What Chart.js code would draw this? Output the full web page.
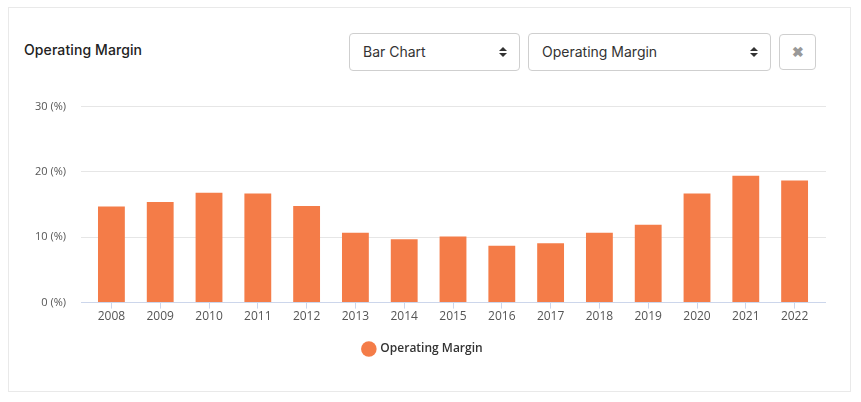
<!DOCTYPE html>
<html>
<head>
<meta charset="utf-8">
<script src="https://cdn.jsdelivr.net/npm/chart.js@4"></script>
<style>
  html, body { margin:0; padding:0; background:#fff; }
  body { width:861px; height:402px; position:relative; overflow:hidden; font-family:"Inter","Open Sans",sans-serif; }
  .card { position:absolute; left:8px; top:7px; width:843px; height:385px; border:1px solid #e9e9e9; box-sizing:border-box; }
  .title { position:absolute; left:24px; top:41px; font-size:14px; font-weight:500; color:#222; letter-spacing:0.1px; }
  .sel { position:absolute; top:33px; height:38px; border:1px solid #cfcfcf; border-radius:4px; box-sizing:border-box; font-size:14px; color:#333; line-height:36px; padding-left:13px; background:#fff; }
  .arr { position:absolute; right:12px; top:13px; width:8px; height:11px; }
  .arr:before, .arr:after { content:""; position:absolute; left:0; border-left:4px solid transparent; border-right:4px solid transparent; }
  .arr:before { top:0; border-bottom:4px solid #333; }
  .arr:after { top:6px; border-top:4px solid #333; }
  .btn { position:absolute; left:779px; top:34px; width:37px; height:36px; border:1px solid #cfcfcf; border-radius:4px; box-sizing:border-box; color:#999; font-size:14px; font-weight:bold; text-align:center; line-height:34px; }
  #wrap { position:absolute; left:20px; top:85px; width:820px; height:284px; }
</style>
</head>
<body>
<div class="card"></div>
<div class="title">Operating Margin</div>
<div class="sel" style="left:349px;width:171px;">Bar Chart<span class="arr"></span></div>
<div class="sel" style="left:528px;width:243px;">Operating Margin<span class="arr"></span></div>
<div class="btn">&#10006;</div>
<div id="wrap"><canvas id="c"></canvas></div>
<script>
const years = ["2008","2009","2010","2011","2012","2013","2014","2015","2016","2017","2018","2019","2020","2021","2022"];
const operatingMargin = [14.7, 15.4, 16.8, 16.7, 14.8, 10.7, 9.7, 10.1, 8.7, 9.1, 10.7, 11.9, 16.7, 19.4, 18.7];
const seriesName = "Operating Margin";
const yTicks = [0, 10, 20, 30];

const gridCol = (ctx) => (ctx.tick && ctx.tick.value === 0) ? '#ccd6eb' : '#e6e6e6';

new Chart(document.getElementById('c'), {
  type: 'bar',
  data: {
    labels: years,
    datasets: [{
      label: seriesName,
      data: operatingMargin,
      backgroundColor: '#f47c48',
      borderWidth: 0,
      barPercentage: 0.55,
      categoryPercentage: 1.0
    }]
  },
  options: {
    responsive: true,
    maintainAspectRatio: false,
    animation: false,
    layout: { padding: { left: 0, right: 14, top: 4, bottom: 4 } },
    plugins: {
      legend: {
        position: 'bottom',
        labels: {
          usePointStyle: true,
          pointStyle: 'circle',
          boxWidth: 11,
          boxHeight: 11,
          padding: 18,
          color: '#333',
          font: { family: 'Open Sans', size: 12, weight: '600' }
        }
      },
      tooltip: { enabled: false }
    },
    scales: {
      x: {
        grid: { display: true, drawOnChartArea: false, offset: false, color: '#ccd6eb', tickLength: 6 },
        border: { color: '#ccd6eb' },
        ticks: { color: '#555', font: { family: 'Open Sans', size: 12 }, padding: 1, maxRotation: 0 }
      },
      y: {
        min: 0, max: 30,
        afterBuildTicks: (s) => { s.ticks = yTicks.map(v => ({ value: v })); },
        grid: { color: gridCol, drawTicks: true, tickLength: 6 },
        border: { display: false },
        ticks: { color: '#555', font: { family: 'Open Sans', size: 11 }, padding: 15, callback: (v) => v + ' (%)' }
      },
      y2: {
        position: 'right',
        min: 0, max: 30,
        afterBuildTicks: (s) => { s.ticks = yTicks.map(v => ({ value: v })); },
        grid: { color: gridCol, drawTicks: true, tickLength: 7, drawOnChartArea: false },
        border: { display: false },
        ticks: { display: false }
      }
    }
  }
});
</script>
</body>
</html>
